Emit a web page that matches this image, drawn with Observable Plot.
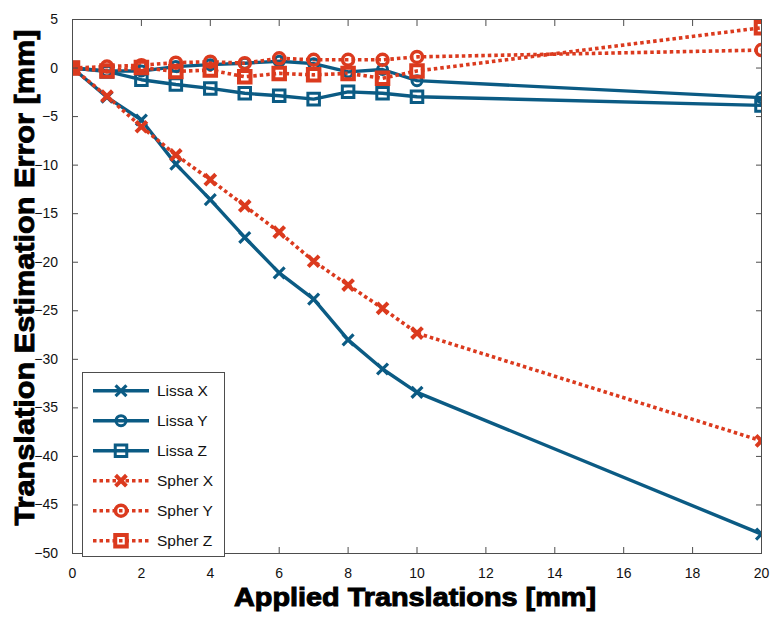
<!DOCTYPE html>
<html>
<head>
<meta charset="utf-8">
<script src="https://cdn.jsdelivr.net/npm/d3@7"></script>
<script src="https://cdn.jsdelivr.net/npm/@observablehq/plot@0.6"></script>
<style>
  html, body { margin: 0; padding: 0; background: #fff; }
  #chart svg { display: block; }
</style>
</head>
<body>
<div id="chart"></div>
<script>
// ---- data ----
const applied = [0, 1, 2, 3, 4, 5, 6, 7, 8, 9, 10, 20];
const lissaX = [0, -3.0, -5.35, -9.9, -13.55, -17.45, -21.1, -23.8, -28.0, -31.0, -33.4, -48.0];
const lissaY = [0, -0.3, -0.3, 0.15, 0.35, 0.5, 0.7, 0.45, -0.4, -0.15, -1.3, -3.05];
const lissaZ = [0, -0.35, -1.2, -1.7, -2.1, -2.6, -2.85, -3.2, -2.45, -2.6, -2.95, -3.85];
const spherX = [0, -2.9, -6.05, -8.95, -11.5, -14.2, -16.9, -19.9, -22.35, -24.75, -27.3, -38.4];
const spherY = [0, 0.15, 0.3, 0.55, 0.65, 0.5, 1.0, 0.85, 0.85, 0.85, 1.15, 1.85];
const spherZ = [0, -0.3, 0.05, -0.35, -0.2, -0.9, -0.55, -0.7, -0.55, -1.05, -0.3, 4.15];
const seriesNames = ["Lissa X", "Lissa Y", "Lissa Z", "Spher X", "Spher Y", "Spher Z"];
const xTicks = [0, 2, 4, 6, 8, 10, 12, 14, 16, 18, 20];
const yTicks = [5, 0, -5, -10, -15, -20, -25, -30, -35, -40, -45, -50];
const xLabel = "Applied Translations [mm]";
const yLabel = "Translation Estimation Error [mm]";

// ---- styles ----
const BLUE = "#0b5b84";
const RED = "#db3a1e";
const FONT = "'Liberation Sans', Arial, sans-serif";
const styles = {
  "Lissa X": {color: BLUE, symbol: "times",  r: 5,   sw: 3.2, dash: null},
  "Lissa Y": {color: BLUE, symbol: "circle", r: 5,   sw: 3,   dash: null},
  "Lissa Z": {color: BLUE, symbol: "square", r: 6.5, sw: 3,   dash: null},
  "Spher X": {color: RED,  symbol: "times",  r: 5,   sw: 4,   dash: "3.5,3"},
  "Spher Y": {color: RED,  symbol: "circle", r: 5.5, sw: 3.5, dash: "3.5,3"},
  "Spher Z": {color: RED,  symbol: "square", r: 6.5, sw: 4,   dash: "3.5,3"}
};
const seriesValues = [lissaX, lissaY, lissaZ, spherX, spherY, spherZ];
const table = seriesNames.map((name, i) => applied.map((x, j) => ({x, y: seriesValues[i][j], series: name})));

const marks = [];
table.forEach((rows, i) => {
  const s = styles[seriesNames[i]];
  marks.push(Plot.line(rows, {x: "x", y: "y", stroke: s.color, strokeWidth: s.dash ? 3.6 : 3.4,
    strokeDasharray: s.dash, strokeLinecap: "butt", strokeLinejoin: "round", clip: true}));
});
table.forEach((rows, i) => {
  const s = styles[seriesNames[i]];
  marks.push(Plot.dot(rows, {x: "x", y: "y", symbol: () => s.symbol, r: s.r, stroke: s.color,
    strokeWidth: s.sw, fill: "none", clip: true}));
});
marks.push(Plot.frame({stroke: "#4d4d4d", strokeWidth: 1}));
// tick labels
marks.push(Plot.axisX({anchor: "bottom", ticks: xTicks, tickSize: 0, tickPadding: 15, label: null, fill: "#111", fontSize: 14}));
marks.push(Plot.axisY({anchor: "left", ticks: yTicks, tickSize: 0, tickPadding: 14.5, label: null, fill: "#111", fontSize: 14}));
// inward tick marks
marks.push(Plot.axisX({anchor: "bottom", ticks: xTicks, tickSize: -6, tickFormat: () => "", label: null, stroke: "#4d4d4d"}));
marks.push(Plot.axisX({anchor: "top", ticks: xTicks, tickSize: -6, tickFormat: () => "", label: null, stroke: "#4d4d4d"}));
marks.push(Plot.axisY({anchor: "left", ticks: yTicks, tickSize: -6, tickFormat: () => "", label: null, stroke: "#4d4d4d"}));
marks.push(Plot.axisY({anchor: "right", ticks: yTicks, tickSize: -6, tickFormat: () => "", label: null, stroke: "#4d4d4d"}));

const chart = Plot.plot({
  width: 772,
  height: 619,
  marginLeft: 72,
  marginRight: 11,
  marginTop: 19,
  marginBottom: 66,
  style: {fontFamily: FONT, fontSize: "14px", background: "#fff", overflow: "visible"},
  x: {domain: [0, 20]},
  y: {domain: [-50, 5]},
  marks
});
document.getElementById("chart").appendChild(chart);

// ---- titles and legend ----
const svg = d3.select(chart);
svg.append("text")
  .attr("x", 415).attr("y", 606)
  .attr("text-anchor", "middle")
  .attr("font-family", FONT)
  .attr("font-weight", "bold").attr("font-size", 26.5)
  .attr("fill", "#000").attr("stroke", "#000").attr("stroke-width", 1)
  .attr("textLength", 362).attr("lengthAdjust", "spacingAndGlyphs")
  .text(xLabel);
svg.append("text")
  .attr("transform", "translate(33.5,277.5) rotate(-90)")
  .attr("text-anchor", "middle")
  .attr("font-family", FONT)
  .attr("font-weight", "bold").attr("font-size", 28)
  .attr("fill", "#000").attr("stroke", "#000").attr("stroke-width", 0.9)
  .attr("textLength", 496).attr("lengthAdjust", "spacingAndGlyphs")
  .text(yLabel);

const symMap = {times: d3.symbolTimes, circle: d3.symbolCircle, square: d3.symbolSquare};
const lg = svg.append("g");
lg.append("rect").attr("x", 82.5).attr("y", 372.5).attr("width", 142).attr("height", 184)
  .attr("fill", "#fff").attr("stroke", "#4d4d4d").attr("stroke-width", 1);
seriesNames.forEach((name, i) => {
  const s = styles[name];
  const cy = 390.7 + 30 * i;
  lg.append("line").attr("x1", 93).attr("x2", 149).attr("y1", cy).attr("y2", cy)
    .attr("stroke", s.color).attr("stroke-width", s.dash ? 3.6 : 3.4)
    .attr("stroke-dasharray", s.dash).attr("stroke-linecap", "butt");
  lg.append("path").attr("transform", `translate(121,${cy})`)
    .attr("d", d3.symbol(symMap[s.symbol], Math.PI * s.r * s.r)())
    .attr("fill", "none").attr("stroke", s.color).attr("stroke-width", s.sw);
  lg.append("text").attr("x", 157).attr("y", cy).attr("dy", "0.35em")
    .attr("text-anchor", "start")
    .attr("font-family", FONT).attr("font-size", 15.5)
    .attr("fill", "#111").text(name);
});
</script>
</body>
</html>
